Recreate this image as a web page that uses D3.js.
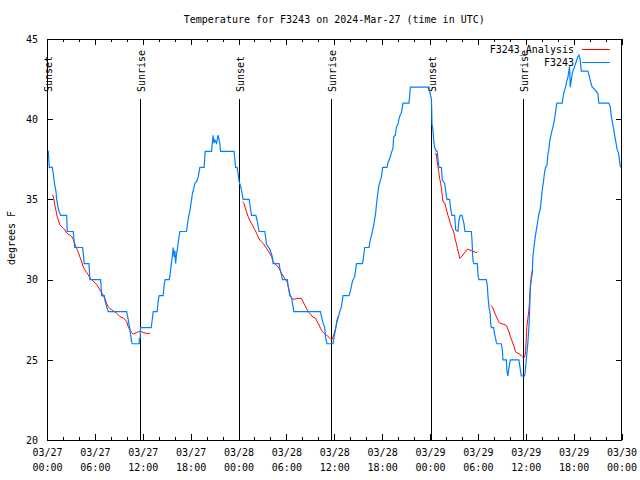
<!DOCTYPE html>
<html lang="en">
<head>
<meta charset="UTF-8">
<title>Temperature for F3243</title>
<style>
    body { margin: 0; background: #fff; }
    svg { display: block; }
    .axis path.domain { display: none; }
    .axis line { stroke: #000; shape-rendering: crispEdges; }
    .axis text { fill: #000; }
</style>
</head>
<body>
<script src="https://d3js.org/d3.v7.min.js"></script>
<script>
// hours after 2024-03-27 00:00 UTC, temperature in degrees F
const observed = [
    [0.04,38],[0.16,38],[0.29,37],[0.66,37],[0.79,36.6],[0.88,36.2],[1.00,35.8],[1.13,35.5],
    [1.21,35],[1.29,34.8],[1.42,34.4],[1.54,34.2],[1.72,34],[2.47,34],[2.54,33],[3.29,33],
    [3.47,32],[4.47,32],[4.67,31],[5.26,31],[5.38,30],[6.72,30],[6.85,29],[7.18,29],
    [7.26,28.7],[7.48,28.3],[7.68,28],[9.98,28],[10.18,27.5],[10.39,26.9],[10.61,26.1],[10.68,26],
    [11.56,26],[11.56,26.3],[11.68,26.3],[11.73,27],[13.06,27],[13.24,27.7],[13.31,28],[13.81,28],
    [13.94,28.7],[14.06,29],[14.56,29],[14.69,29.7],[14.81,30],[15.31,30],[15.40,30.2],[15.61,31.1],
    [15.74,31.6],[15.81,32],[15.94,31.4],[16.03,31.8],[16.12,31],[16.24,31.6],[16.37,32],[16.53,32.6],
    [16.65,33],[17.49,33],[17.62,33.5],[17.74,33.9],[17.91,34.3],[18.12,35],[18.24,35.4],[18.41,35.7],
    [18.53,36],[18.75,36.1],[18.95,36.4],[19.16,37],[19.70,37],[19.82,38],[20.62,38],[20.75,38.7],
    [20.82,39],[20.91,38.5],[21.04,38.7],[21.25,38.5],[21.45,39],[21.66,38.5],[21.75,38],[23.45,38],
    [23.54,37.5],[23.63,37],[23.83,37],[23.95,36.6],[24.08,36.1],[24.29,35.8],[24.51,35.2],[24.58,35],
    [25.33,35],[25.51,34.4],[25.63,34],[26.17,34],[26.33,33.7],[26.58,33],[27.30,33],[27.51,32.2],
    [27.92,31.9],[28.26,31.4],[28.34,31],[29.09,31],[29.18,30.7],[29.39,30.3],[29.51,30],[30.12,30],
    [30.22,29.6],[30.43,29],[30.64,28.9],[30.84,28.3],[30.93,28],[34.27,28],[34.40,27.7],[34.60,27.3],
    [34.81,27],[34.90,26.4],[35.10,26],[35.85,26],[35.94,26.3],[36.19,27],[36.35,27.4],[36.53,27.7],
    [36.69,28],[36.90,28.3],[37.10,29],[37.85,29],[38.03,29.3],[38.28,29.9],[38.57,30.2],[38.78,31],
    [39.53,31],[39.61,31.2],[39.82,32],[40.36,32],[40.45,32.3],[40.78,33],[40.95,33.4],[41.20,34.2],
    [41.29,34.7],[41.49,35.5],[41.61,35.9],[41.91,36.4],[42.07,37],[42.61,37],[42.74,37.3],[42.99,37.6],
    [43.16,37.9],[43.36,38.2],[43.45,38.9],[43.66,39],[43.79,39.5],[43.99,39.7],[44.11,40],[44.29,40.3],
    [44.42,40.4],[44.54,40.8],[44.62,41],[45.37,41],[45.46,41.5],[45.54,42],[47.87,42],[47.96,41.7],
    [48.17,41.3],[48.21,40.7],[48.25,39.7],[48.37,39.3],[48.46,38.7],[48.59,38.2],[48.80,38],[48.90,38],
    [49.00,37.5],[49.12,37],[49.42,37],[49.55,36.2],[49.84,36],[50.05,35.2],[50.13,35],[50.46,35],
    [50.59,34.4],[50.75,34],[51.09,34],[51.22,33.1],[51.50,33],[51.63,33.7],[51.80,34],[52.00,34],
    [52.25,33.5],[52.38,33],[53.18,33],[53.26,32.5],[53.38,31.2],[53.51,31],[53.93,31],[54.01,30.3],
    [54.13,30],[55.06,30],[55.19,29.6],[55.26,29],[55.39,28.3],[55.56,27.8],[55.59,27.3],[55.69,27],
    [55.97,27],[56.10,26.6],[56.31,26.1],[56.39,26],[56.94,26],[57.07,25.6],[57.14,25],[57.57,25],
    [57.64,24.3],[57.77,24],[57.86,24.4],[58.07,25],[59.14,25],[59.23,24.7],[59.44,24],[59.86,24],
    [59.98,24.5],[60.07,25],[60.27,26.1],[60.39,27],[60.48,27.9],[60.57,29.6],[60.69,30],[60.82,30.4],
    [60.89,31.4],[61.02,32],[61.23,32.8],[61.40,33.3],[61.52,33.7],[61.65,34.1],[61.82,34.4],[61.95,35],
    [62.07,35.6],[62.24,36.2],[62.36,36.7],[62.49,37],[62.65,37.1],[62.77,37.8],[62.90,38.1],[62.99,38.6],
    [63.20,39.1],[63.40,39.5],[63.61,40],[63.83,40.8],[63.90,41],[64.58,41],[64.74,41.6],[64.99,42],
    [65.15,42.4],[65.28,42.6],[65.40,43],[65.49,43.3],[65.58,42],[65.70,42.4],[65.83,42.9],[65.99,43.1],
    [66.20,43.4],[66.33,43.6],[66.53,43.9],[66.66,44],[66.83,43.7],[66.96,43],[67.78,43],[67.91,42.8],
    [68.08,42.4],[68.33,42],[68.75,41.8],[69.03,41.6],[69.16,41],[70.41,41],[70.59,40.8],[70.71,40.2],
    [70.91,39.7],[71.04,39.3],[71.25,38.7],[71.46,38.1],[71.62,37.9],[71.84,37.1],[71.94,37]
];

const analysisNight1 = [
    [0.66,35.3],[0.79,35.2],[1.00,34.6],[1.13,34.3],[1.29,33.9],[1.63,33.4],[2.04,33.2],[2.25,33.1],
    [2.47,32.9],[2.79,32.8],[3.09,32.7],[3.29,32.5],[3.51,32.2],[3.72,31.95],[3.92,31.7],[4.13,31.4],
    [4.35,31.1],[4.55,30.8],[4.76,30.6],[5.17,30.3],[5.38,30.1],[5.80,29.9],[6.22,29.7],[6.64,29.35],
    [6.97,29.1],[7.26,28.8],[7.48,28.5],[7.68,28.3],[7.89,28.2],[8.30,28.05],[8.73,27.9],[9.14,27.7],
    [9.55,27.6],[9.77,27.5],[9.98,27.4],[10.18,27.06],[10.39,26.86],[10.61,26.7],[10.81,26.6],
    [11.23,26.7],[11.43,26.75],[11.86,26.75],[12.06,26.7],[12.48,26.65],[12.90,26.65]
];
const analysisNight2 = [
    [24.51,34.86],[24.67,34.76],[25.01,34.23],[25.21,33.92],[25.42,33.7],[25.63,33.5],[25.83,33.3],
    [26.05,33.1],[26.26,32.9],[26.46,32.67],[26.67,32.47],[26.88,32.36],[27.09,32.26],[27.51,31.95],
    [27.92,31.64],[28.14,31.43],[28.34,31.1],[28.76,30.9],[29.09,30.7],[29.51,30.29],[29.80,30.08],
    [30.09,29.87],[30.34,29.35],[30.52,28.93],[30.84,28.77],[31.47,28.83],[31.89,28.83],[32.09,28.62],
    [32.31,28.4],[32.52,28.2],[32.72,28],[32.93,27.9],[33.35,27.65],[33.68,27.59],[33.85,27.38],
    [34.10,27.17],[34.27,26.97],[34.52,26.75],[34.72,26.65],[35.02,26.55],[35.22,26.44],[35.44,26.34],
    [35.56,26.28],[35.73,26.28],[35.94,26.55],[36.19,26.97],[36.35,27.48],[36.48,27.69]
];
const analysisNight3 = [
    [48.59,37.83],[48.80,37.83],[48.87,37.46],[49.00,37.04],[49.09,36.73],[49.21,36.3],[49.34,36],
    [49.46,35.6],[49.55,35.17],[49.62,34.86],[49.84,34.8],[49.96,34.55],[50.13,34.23],[50.25,34],
    [50.38,33.8],[50.55,33.5],[50.72,33.26],[50.88,33.1],[51.00,32.9],[51.13,32.57],[51.30,32.26],
    [51.43,31.95],[51.59,31.64],[51.72,31.33],[51.88,31.4],[52.13,31.53],[52.34,31.68],[52.55,31.85],
    [52.76,31.9],[52.97,31.85],[53.31,31.78],[53.72,31.7],[53.93,31.7]
];
const analysisMorning3 = [
    [55.60,28.4],[55.81,28.3],[55.97,28.1],[56.22,27.8],[56.51,27.48],[56.72,27.3],[57.14,27.23],
    [57.48,27.17],[57.64,27.06],[57.89,26.75],[58.07,26.44],[58.32,26.13],[58.52,25.82],[58.73,25.5],
    [58.89,25.44],[59.23,25.36],[59.44,25.24],[59.64,25.16],[59.86,25.16],[59.98,25.5],[60.07,26.34],
    [60.14,27.06],[60.27,27.58],[60.39,28.1],[60.48,28.73],[60.69,30.2],[60.82,30.55]
];

const sunLabels = ["Sunset", "Sunrise", "Sunset", "Sunrise", "Sunset", "Sunrise"];
const sunHours = [0.04, 11.66, 24.08, 35.62, 48.12, 59.62];

const yTicks = [20, 25, 30, 35, 40, 45];
const seriesNames = ["F3243_Analysis", "F3243"];
const seriesColors = ["#ff0000", "#0080ff"];

const W = 640, H = 480;
const plotLeft = 47, plotRight = 621.5, plotTop = 39, plotBottom = 440;

const t0 = Date.UTC(2024, 2, 27);
const toDate = h => new Date(t0 + h * 3600e3);

const x = d3.scaleUtc().domain([toDate(0), toDate(72)]).range([plotLeft, plotRight]);
const y = d3.scaleLinear().domain([20, 45]).range([plotBottom, plotTop]);

const svg = d3.select("body").append("svg")
    .attr("width", W).attr("height", H)
    .style("font-family", "'DejaVu Sans Mono', monospace")
    .style("font-size", "10px");

svg.append("rect").attr("width", W).attr("height", H).attr("fill", "#fff");

const major = d3.utcHour.every(6).range(toDate(0), toDate(72.01));
const minor = d3.utcHour.every(2).range(toDate(0), toDate(72.01)).filter(d => d.getUTCHours() % 6 !== 0);

const fmtDay = d3.utcFormat("%m/%d");
const fmtHM = d3.utcFormat("%H:%M");

// minor ticks, bottom and top
svg.append("g").attr("class", "axis").attr("transform", `translate(0,${plotBottom})`)
    .call(d3.axisBottom(x).tickValues(minor).tickSizeInner(-3).tickSizeOuter(0).tickFormat(""));
svg.append("g").attr("class", "axis").attr("transform", `translate(0,${plotTop})`)
    .call(d3.axisTop(x).tickValues(minor).tickSizeInner(-3).tickSizeOuter(0).tickFormat(""));

// major x ticks with two-line labels
const xAxis = svg.append("g").attr("class", "axis").attr("transform", `translate(0,${plotBottom})`)
    .call(d3.axisBottom(x).tickValues(major).tickSizeInner(-6).tickSizeOuter(0).tickPadding(9));
xAxis.selectAll(".tick text").each(function(d) {
    const t = d3.select(this);
    t.text(null);
    t.append("tspan").attr("x", 0).text(fmtDay(d));
    t.append("tspan").attr("x", 0).attr("dy", "1.5em").text(fmtHM(d));
});
svg.append("g").attr("class", "axis").attr("transform", `translate(0,${plotTop})`)
    .call(d3.axisTop(x).tickValues(major).tickSizeInner(-6).tickSizeOuter(0).tickFormat(""));

// y axes
svg.append("g").attr("class", "axis").attr("transform", `translate(${plotLeft},0)`)
    .call(d3.axisLeft(y).tickValues(yTicks).tickSizeInner(-6).tickSizeOuter(0).tickPadding(9).tickFormat(d3.format("d")));
svg.append("g").attr("class", "axis").attr("transform", `translate(${plotRight},0)`)
    .call(d3.axisRight(y).tickValues(yTicks).tickSizeInner(-6).tickSizeOuter(0).tickFormat(""));
svg.selectAll(".axis text").style("font-family", "'DejaVu Sans Mono', monospace").style("font-size", "10px");

// sunrise / sunset markers
sunHours.forEach((h, i) => {
    const sx = Math.round(x(toDate(h))) + 0.5;
    svg.append("line")
        .attr("x1", sx).attr("x2", sx).attr("y1", 99).attr("y2", plotBottom)
        .attr("stroke", "#000").attr("stroke-width", 1);
    svg.append("text")
        .attr("transform", `translate(${sx + 1},92) rotate(-90)`)
        .attr("dy", "0.35em")
        .text(sunLabels[i]);
});

const line = d3.line()
    .x(d => x(toDate(d[0])))
    .y(d => y(d[1]));

[analysisNight1, analysisNight2, analysisNight3, analysisMorning3].forEach(seg => {
    svg.append("path").datum(seg)
        .attr("d", line)
        .attr("fill", "none")
        .attr("stroke", seriesColors[0])
        .attr("stroke-width", 1);
});

svg.append("path").datum(observed)
    .attr("d", line)
    .attr("fill", "none")
    .attr("stroke", seriesColors[1])
    .attr("stroke-width", 1.2);

// border
svg.append("rect")
    .attr("x", plotLeft).attr("y", plotTop)
    .attr("width", plotRight - plotLeft).attr("height", plotBottom - plotTop)
    .attr("fill", "none").attr("stroke", "#000")
    .attr("shape-rendering", "crispEdges");

// legend
seriesNames.forEach((name, i) => {
    const ly = 49 + i * 13;
    svg.append("text")
        .attr("x", 574).attr("y", ly).attr("dy", "0.35em")
        .attr("text-anchor", "end")
        .text(name);
    svg.append("line")
        .attr("x1", 582).attr("x2", 610).attr("y1", ly + 0.5).attr("y2", ly + 0.5)
        .attr("stroke", seriesColors[i]).attr("stroke-width", 1);
});

// title and y label
svg.append("text")
    .attr("x", (plotLeft + plotRight) / 2).attr("y", 23)
    .attr("text-anchor", "middle")
    .text("Temperature for F3243 on 2024-Mar-27 (time in UTC)");

svg.append("text")
    .attr("transform", "translate(11,238) rotate(-90)")
    .attr("dy", "0.35em")
    .attr("text-anchor", "middle")
    .text("degrees F");
</script>
</body>
</html>
